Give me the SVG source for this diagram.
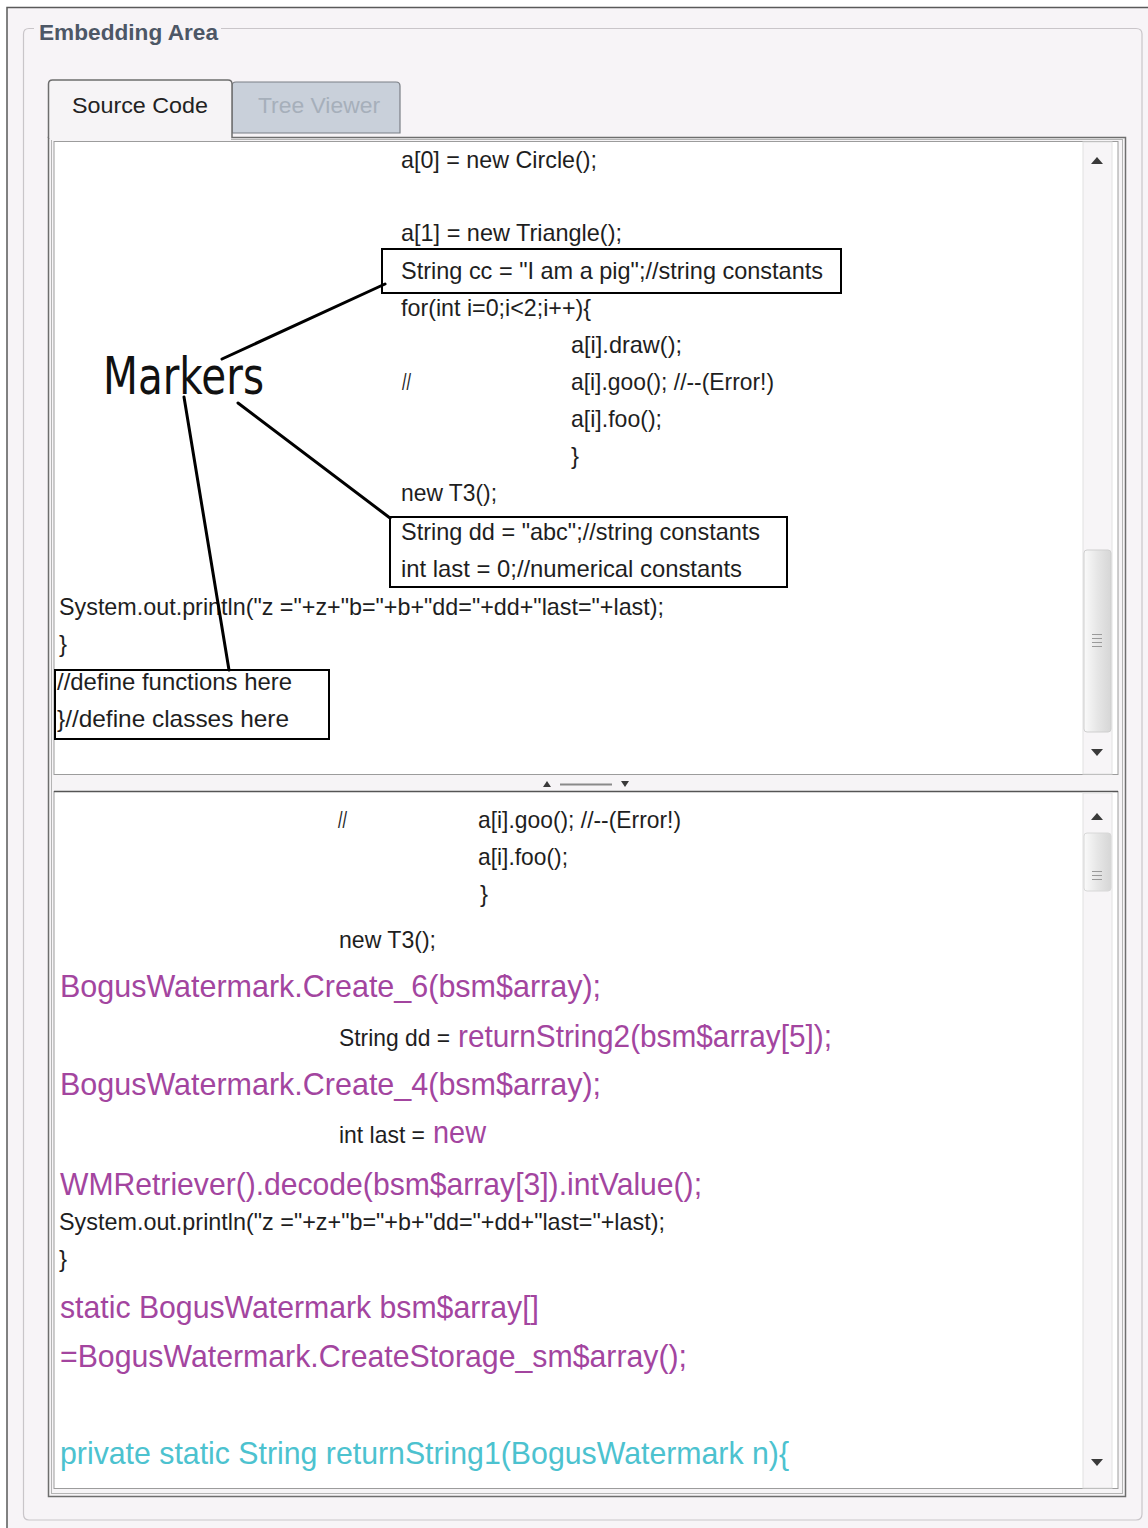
<svg xmlns="http://www.w3.org/2000/svg" width="1148" height="1528" viewBox="0 0 1148 1528">
  <defs>
    <style>
      .code { font-family: "Liberation Sans", Arial, sans-serif; font-size: 24px; fill: #1e1e1e; }
      .wm { font-family: "Liberation Sans", Arial, sans-serif; font-size: 32px; fill: #a3459f; }
      .cy { font-family: "Liberation Sans", Arial, sans-serif; font-size: 32px; fill: #4cc2cf; }
      .tab { font-family: "Liberation Sans", Arial, sans-serif; font-size: 22px; }
      .mark { stroke: #000; stroke-width: 2; fill: none; }
      .link { stroke: #000; stroke-width: 3; fill: none; stroke-linecap: round; }
      .arrow { fill: #3a3a3a; }
      .grip { stroke: #9a9a9a; stroke-width: 1; }
    </style>
    <linearGradient id="thumb" x1="0" y1="0" x2="1" y2="0">
      <stop offset="0" stop-color="#fafafa"/>
      <stop offset="0.5" stop-color="#e6e6e6"/>
      <stop offset="1" stop-color="#d6d6d6"/>
    </linearGradient>
  </defs>

  <!-- window background and frame -->
  <rect x="0" y="0" width="1148" height="1528" fill="#ffffff"/>
  <rect x="7" y="7" width="1141" height="1521" fill="#f7f4f7"/>
  <path d="M7 1528 V7.5 H1148" stroke="#5a5a5a" stroke-width="1.5" fill="none"/>

  <!-- group box: Embedding Area -->
  <g id="embedding-area">
    <path d="M34 28.5 H29 Q23.5 28.5 23.5 34 V1514 Q23.5 1520 29 1520 H1136 Q1142 1520 1142 1514 V34 Q1142 28.5 1136 28.5 H221" stroke="#c9c5c9" stroke-width="1.2" fill="none"/>
    <text class="tab" x="39" y="40" font-weight="bold" fill="#4d5766" textLength="179" lengthAdjust="spacingAndGlyphs">Embedding Area</text>
  </g>

  <!-- tabbed panel -->
  <g id="tab-panel">
    <rect x="48.5" y="137.5" width="1077" height="1359" fill="#f6f4f6" stroke="#6e6e6e" stroke-width="1.5"/>
    <rect x="51.5" y="139.5" width="1071" height="1354" fill="none" stroke="#b4b4b4" stroke-width="1"/>
  </g>
  <g id="tab-tree">
    <path d="M232 133 V86 Q232 82 236 82 H396 Q400 82 400 86 V133 Z" fill="#c9d0da" stroke="#7b7f86" stroke-width="1.2"/>
    <text class="tab" x="258" y="113" fill="#a6afba" textLength="122" lengthAdjust="spacingAndGlyphs">Tree Viewer</text>
  </g>
  <g id="tab-source">
    <path d="M48.5 138 V84 Q48.5 80 52.5 80 H228 Q232 80 232 84 V138" fill="#f6f4f6" stroke="#6e6e6e" stroke-width="1.5"/>
    <rect x="50" y="136" width="181" height="4" fill="#f6f4f6"/>
    <text class="tab" x="72" y="113" fill="#222" textLength="136" lengthAdjust="spacingAndGlyphs">Source Code</text>
  </g>

  <!-- upper scroll pane -->
  <g id="pane-top">
    <rect x="54" y="141.5" width="1064" height="633" fill="#ffffff" stroke="#9c9c9c" stroke-width="1"/>
    <rect x="1083" y="142" width="29" height="632" fill="#f7f5f7" stroke="#e2e2e2" stroke-width="1"/>
    <path class="arrow" d="M1091 164 L1097 157 L1103 164 Z"/>
    <rect x="1084" y="550" width="27" height="182" rx="3" fill="url(#thumb)" stroke="#cfcfcf" stroke-width="1"/>
    <path class="grip" d="M1092 634.5 H1102 M1092 638.5 H1102 M1092 642.5 H1102 M1092 646.5 H1102"/>
    <path class="arrow" d="M1091 749 L1097 756 L1103 749 Z"/>

    <text class="code" x="401" y="168" textLength="196" lengthAdjust="spacingAndGlyphs">a[0] = new Circle();</text>
    <text class="code" x="401" y="241" textLength="221" lengthAdjust="spacingAndGlyphs">a[1] = new Triangle();</text>
    <text class="code" x="401" y="316" textLength="190" lengthAdjust="spacingAndGlyphs">for(int i=0;i&lt;2;i++){</text>
    <text class="code" x="571" y="353" textLength="111" lengthAdjust="spacingAndGlyphs">a[i].draw();</text>
    <text class="code" x="402" y="390" textLength="9" lengthAdjust="spacingAndGlyphs">//</text>
    <text class="code" x="571" y="390" textLength="203" lengthAdjust="spacingAndGlyphs">a[i].goo(); //--(Error!)</text>
    <text class="code" x="571" y="427" textLength="91" lengthAdjust="spacingAndGlyphs">a[i].foo();</text>
    <text class="code" x="571" y="464">}</text>
    <text class="code" x="401" y="501" textLength="96" lengthAdjust="spacingAndGlyphs">new T3();</text>
    <text class="code" x="59" y="615" textLength="605" lengthAdjust="spacingAndGlyphs">System.out.println("z ="+z+"b="+b+"dd="+dd+"last="+last);</text>
    <text class="code" x="59" y="652">}</text>
  </g>

  <!-- marked code regions -->
  <g id="box-string-cc">
    <rect class="mark" x="382" y="249" width="459" height="44"/>
    <text class="code" x="401" y="279" textLength="422" lengthAdjust="spacingAndGlyphs">String cc = "I am a pig";//string constants</text>
  </g>
  <g id="box-constants">
    <rect class="mark" x="390" y="517" width="397" height="70"/>
    <text class="code" x="401" y="540" textLength="359" lengthAdjust="spacingAndGlyphs">String dd = "abc";//string constants</text>
    <text class="code" x="401" y="577" textLength="341" lengthAdjust="spacingAndGlyphs">int last = 0;//numerical constants</text>
  </g>
  <g id="box-definitions">
    <rect class="mark" x="55" y="670" width="274" height="69"/>
    <text class="code" x="57" y="690" textLength="235" lengthAdjust="spacingAndGlyphs">//define functions here</text>
    <text class="code" x="57" y="727" textLength="232" lengthAdjust="spacingAndGlyphs">}//define classes here</text>
  </g>

  <!-- label -->
  <g id="markers">
    <text x="103" y="394" font-family="'DejaVu Sans', 'Liberation Sans', sans-serif" font-size="51" fill="#111" textLength="161" lengthAdjust="spacingAndGlyphs">Markers</text>
  </g>

  <!-- connectors from the label to the marked regions -->
  <g id="connectors">
    <path class="link" d="M222 359 L385 284"/>
    <path class="link" d="M238 403 L390 518"/>
    <path class="link" d="M184 397 L229 670"/>
  </g>

  <!-- split divider -->
  <g id="divider">
    <path class="arrow" d="M543 787 L547 781 L551 787 Z"/>
    <path d="M560 784.5 H612" stroke="#8a8a8a" stroke-width="2"/>
    <path class="arrow" d="M621 781 L625 787 L629 781 Z"/>
  </g>

  <!-- lower scroll pane -->
  <g id="pane-bottom">
    <rect x="54" y="791.5" width="1064" height="697" fill="#ffffff" stroke="#9c9c9c" stroke-width="1"/>
    <path d="M54 791.5 H1118" stroke="#555" stroke-width="1.5"/>
    <rect x="1083" y="793" width="29" height="695" fill="#f7f5f7" stroke="#e2e2e2" stroke-width="1"/>
    <path class="arrow" d="M1091 820 L1097 813 L1103 820 Z"/>
    <rect x="1084" y="833" width="27" height="58" rx="3" fill="url(#thumb)" stroke="#d8d8d8" stroke-width="1"/>
    <path class="grip" d="M1092 871.5 H1102 M1092 875.5 H1102 M1092 879.5 H1102"/>
    <path class="arrow" d="M1091 1459 L1097 1466 L1103 1459 Z"/>

    <text class="code" x="338" y="828" textLength="9" lengthAdjust="spacingAndGlyphs">//</text>
    <text class="code" x="478" y="828" textLength="203" lengthAdjust="spacingAndGlyphs">a[i].goo(); //--(Error!)</text>
    <text class="code" x="478" y="865" textLength="90" lengthAdjust="spacingAndGlyphs">a[i].foo();</text>
    <text class="code" x="480" y="902">}</text>
    <text class="code" x="339" y="948" textLength="97" lengthAdjust="spacingAndGlyphs">new T3();</text>
    <text class="wm" x="60" y="997" textLength="541" lengthAdjust="spacingAndGlyphs">BogusWatermark.Create_6(bsm$array);</text>
    <text class="code" x="339" y="1046" textLength="111" lengthAdjust="spacingAndGlyphs">String dd =</text>
    <text class="wm" x="458" y="1047" textLength="374" lengthAdjust="spacingAndGlyphs">returnString2(bsm$array[5]);</text>
    <text class="wm" x="60" y="1095" textLength="541" lengthAdjust="spacingAndGlyphs">BogusWatermark.Create_4(bsm$array);</text>
    <text class="code" x="339" y="1143" textLength="86" lengthAdjust="spacingAndGlyphs">int last =</text>
    <text class="wm" x="433" y="1143" textLength="53" lengthAdjust="spacingAndGlyphs">new</text>
    <text class="wm" x="60" y="1195" textLength="642" lengthAdjust="spacingAndGlyphs">WMRetriever().decode(bsm$array[3]).intValue();</text>
    <text class="code" x="59" y="1230" textLength="606" lengthAdjust="spacingAndGlyphs">System.out.println("z ="+z+"b="+b+"dd="+dd+"last="+last);</text>
    <text class="code" x="59" y="1267">}</text>
    <text class="wm" x="60" y="1318" textLength="479" lengthAdjust="spacingAndGlyphs">static BogusWatermark bsm$array[]</text>
    <text class="wm" x="60" y="1367" textLength="627" lengthAdjust="spacingAndGlyphs">=BogusWatermark.CreateStorage_sm$array();</text>
    <text class="cy" x="60" y="1464" textLength="729" lengthAdjust="spacingAndGlyphs">private static String returnString1(BogusWatermark n){</text>
  </g>
</svg>
